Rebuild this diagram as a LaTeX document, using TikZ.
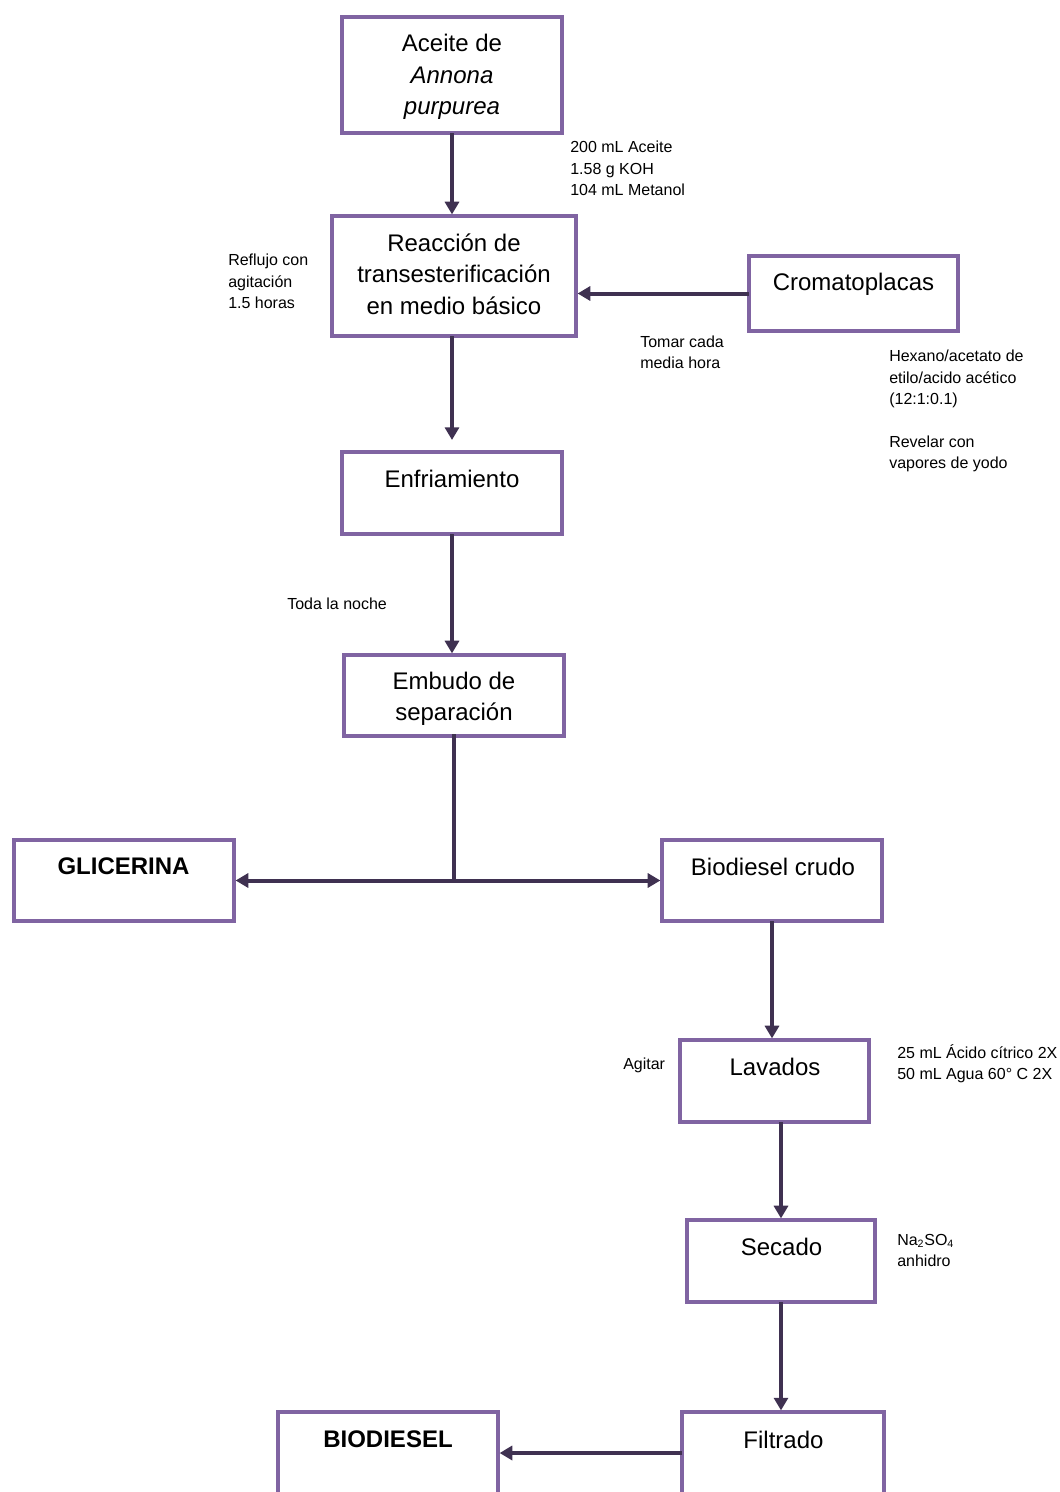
\documentclass[tikz,border=0pt]{standalone}
\usepackage{fontspec}
\setmainfont{Liberation Sans}
\usetikzlibrary{arrows.meta,calc}
\definecolor{boxpurple}{HTML}{8064A2}
\definecolor{arrowdark}{HTML}{3F3151}

\begin{document}
\begin{tikzpicture}[x=0.75pt,y=-0.75pt,
  box/.style 2 args={draw=boxpurple, line width=3.3pt, fill=white,
    minimum width=#1*0.75pt, minimum height=#2*0.75pt, inner sep=0pt, outer sep=0pt},
  main/.style={font=\fontsize{18}{23.6}\selectfont, align=center, inner sep=0pt},
  note/.style={font=\fontsize{12}{16}\selectfont, align=left, inner sep=0pt},
  flow/.style={draw=arrowdark, line width=3pt, -{Triangle[length=9.5pt,width=10.5pt]}, shorten >=1.2pt},
  link/.style={draw=arrowdark, line width=3pt},
]
\useasboundingbox (0,0) rectangle (1060,1492);

% process boxes
\node[box={220}{116}] (ace)  at (452,75) {};
\node[box={244}{120}] (reac) at (454,276) {};
\node[box={209}{75}]  (crom) at (853.5,293.5) {};
\node[box={220}{82}]  (enf)  at (452,493) {};
\node[box={220}{81}]  (emb)  at (454,695.5) {};
\node[box={220}{81}]  (glic) at (124,880.5) {};
\node[box={220}{81}]  (bcru) at (772,880.5) {};
\node[box={189}{82}]  (lav)  at (774.5,1081) {};
\node[box={188}{82}]  (sec)  at (781,1261) {};
\node[box={220}{82}]  (bio)  at (388,1453) {};
\node[box={202}{82}]  (fil)  at (783,1453) {};

% box captions
\node[main] (ace-t) at (452,77) {Aceite de\\\textit{Annona}\\\textit{purpurea}};
\node[main] (reac-t) at (454,274) {Reacción de\\transesterificación\\en medio básico};
\node[main, anchor=base] (crom-t) at (853.5,290) {Cromatoplacas};
\node[main, anchor=base] (enf-t) at (452,487) {Enfriamiento};
\node[main] (emb-t) at (454,699) {Embudo de\\separación};
\node[main, anchor=base] (glic-t) at (123.5,874) {\bfseries GLICERINA};
\node[main, anchor=base] (bcru-t) at (773,875) {Biodiesel crudo};
\node[main, anchor=base] (lav-t) at (775,1075) {Lavados};
\node[main, anchor=base] (sec-t) at (781.5,1255) {Secado};
\node[main, anchor=base] (bio-t) at (388,1447) {\bfseries BIODIESEL};
\node[main, anchor=base] (fil-t) at (783.5,1448) {Filtrado};

% side notes
\node[note, anchor=west] (n-reag) at (570,168.5) {200 mL Aceite\\1.58 g KOH\\104 mL Metanol};
\node[note, anchor=west] (n-refl) at (228,281.5) {Reflujo con\\agitación\\1.5 horas};
\node[note, anchor=west] (n-toma) at (640,352.5) {Tomar cada\\media hora};
\node[note, anchor=west] (n-hexa) at (889,411) {Hexano/acetato de\\etilo/acido acético\\(12:1:0.1)\\[16pt]Revelar con\\vapores de yodo};
\node[note, anchor=base west] (n-noche) at (287,609) {Toda la noche};
\node[note, anchor=base west] (n-agit) at (623,1069) {Agitar};
\node[note, anchor=west] (n-lava) at (897,1063.5) {25 mL Ácido cítrico 2X\\50 mL Agua 60° C 2X};
\node[note, anchor=west] (n-seca) at (897,1250.5) {Na\textsubscript{2}SO\textsubscript{4}\\anhidro};

% connectors
\draw[flow] (ace.south) -- (ace.south |- reac.north);
\draw[flow] (crom.west) -- (crom.west -| reac.east);
\coordinate (enf-in) at ($(enf.north)+(0,-12)$);
\draw[flow, shorten >=0pt] (enf-in |- reac.south) -- (enf-in);
\draw[flow] (enf.south) -- (enf.south |- emb.north);
\coordinate (split) at (emb.south |- glic.east);
\draw[link] ($(emb.south)+(0,-2)$) -- (split);
\draw[flow] (split) -- (glic.east);
\draw[flow] (split) -- (bcru.west);
\draw[flow] (bcru.south) -- (bcru.south |- lav.north);
\draw[flow] (sec.north |- lav.south) -- (sec.north);
\draw[flow] (sec.south) -- (sec.south |- fil.north);
\draw[flow] (fil.west) -- (bio.east);
\end{tikzpicture}
\end{document}
